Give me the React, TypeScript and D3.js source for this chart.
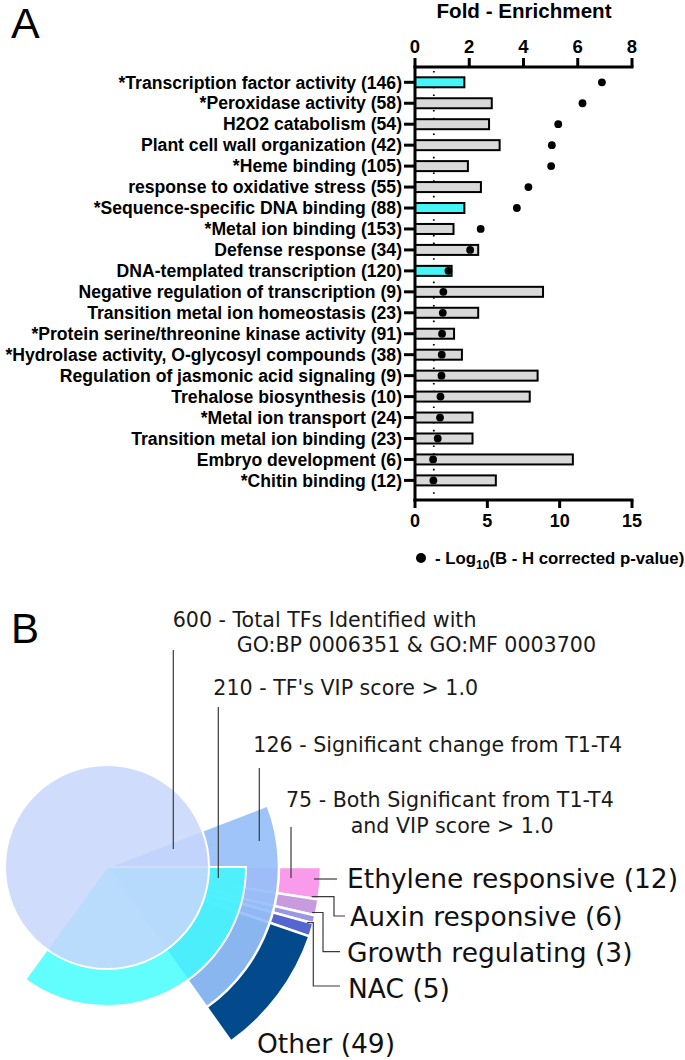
import React from 'react';
import * as d3 from 'd3';

// ---------- Panel A data ----------
const categories = [
  '*Transcription factor activity (146)',
  '*Peroxidase activity (58)',
  'H2O2 catabolism (54)',
  'Plant cell wall organization (42)',
  '*Heme binding (105)',
  'response to oxidative stress (55)',
  '*Sequence-specific DNA binding (88)',
  '*Metal ion binding (153)',
  'Defense response (34)',
  'DNA-templated transcription (120)',
  'Negative regulation of transcription (9)',
  'Transition metal ion homeostasis (23)',
  '*Protein serine/threonine kinase activity (91)',
  '*Hydrolase activity, O-glycosyl compounds (38)',
  'Regulation of jasmonic acid signaling (9)',
  'Trehalose biosynthesis (10)',
  '*Metal ion transport (24)',
  'Transition metal ion binding (23)',
  'Embryo development (6)',
  '*Chitin binding (12)',
];
const foldEnrichment = [1.82, 2.83, 2.73, 3.12, 1.95, 2.43, 1.82, 1.42, 2.33, 1.35, 4.72, 2.33, 1.44, 1.73, 4.52, 4.23, 2.12, 2.12, 5.82, 2.98];
const negLog10P = [12.92, 11.58, 9.9, 9.46, 9.41, 7.84, 7.04, 4.54, 3.81, 2.31, 1.96, 1.92, 1.87, 1.85, 1.83, 1.76, 1.73, 1.57, 1.25, 1.27];
const isTFTerm = [true, false, false, false, false, false, true, false, false, true, false, false, false, false, false, false, false, false, false, false];
const foldTicks = [0, 2, 4, 6, 8];
const pTicks = [0, 5, 10, 15];
const significanceThreshold = 1.3; // -log10(0.05)

// ---------- Panel B data ----------
const levelCounts = [600, 210, 126, 75];
const levelLabels = [
  ['600 - Total TFs Identified with', 'GO:BP 0006351 & GO:MF 0003700'],
  ["210 - TF's VIP score > 1.0"],
  ['126 - Significant change from T1-T4'],
  ['75 - Both Significant from T1-T4', 'and VIP score > 1.0'],
];
const groupNames = ['Ethylene responsive', 'Auxin responsive', 'Growth regulating', 'NAC', 'Other'];
const groupCounts = [12, 6, 3, 5, 49];
const groupColors = ['#f99bea', '#c89ade', '#9b97e1', '#5666cf', '#034a8c'];

export default function App() {
  // ---- Panel A scales ----
  const x0 = 415, x1 = 632;
  const xFold = d3.scaleLinear().domain([0, 8]).range([x0, x1]);
  const xP = d3.scaleLinear().domain([0, 15]).range([x0, x1]);
  const yTop = 67, yBot = 500;
  const y = d3.scalePoint<string>().domain(categories).range([82.3, 480.4]);
  const barH = 10;
  const boldFont = '"Liberation Sans", Arial, sans-serif';

  // ---- Panel B geometry ----
  const cx = 107, cy = 867;
  const rCircle = 102, rL1 = 139, rL2 = 172, rL3 = 214;
  const degPerUnit = d3.scaleLinear().domain([0, levelCounts[0]]).range([0, 360]);
  const toRad = (deg: number) => Math.PI / 2 + (deg * Math.PI) / 180;
  const l1Start = 0, l1End = l1Start + degPerUnit(levelCounts[1]);
  const l2Start = -21, l2End = l2Start + degPerUnit(levelCounts[2]);
  const arc = d3.arc<any>();
  const pie = d3.pie<number>().sort(null).value((d) => d).startAngle(toRad(0)).endAngle(toRad(l2End));
  const groupArcs = pie(groupCounts);

  const lineGen = d3.line();
  const leaders: [number, number][][] = [
    [[173.3, 650], [173.3, 849]],
    [[218.3, 707], [218.3, 878]],
    [[259.3, 768], [259.3, 841]],
    [[291, 827], [291, 878]],
  ];
  const groupLeaders: [number, number][][] = [
    [[314, 879], [337, 879]],
    [[311.7, 896.7], [334, 896.7], [334, 916], [345, 916]],
    [[312, 912.5], [323, 912.5], [323, 951.7], [340, 951.7]],
    [[307, 922.7], [313.3, 922.7], [313.3, 986], [340, 986]],
  ];
  const groupLabelPos = [
    [347, 888], [350, 925.7], [347, 961.7], [348, 998.3], [257, 1053],
  ];
  const levelLabelPos = [
    [[172.7, 626.7], [236.7, 651.7]],
    [[213.3, 695]],
    [[253.3, 751.7]],
    [[286, 806.7], [350.7, 833.3]],
  ];
  const sansFont = '"DejaVu Sans", Verdana, sans-serif';

  return (
    <svg width={685} height={1060} style={{ position: 'absolute', left: 0, top: 0, background: '#fff' }}>
      <rect x={0} y={0} width={685} height={1060} fill="#fff" />
      {/* Panel letters */}
      <text x={11} y={38} fontFamily={boldFont} fontSize={43} fill="#000">A</text>
      <text x={11} y={643} fontFamily={boldFont} fontSize={42} fill="#000">B</text>

      {/* ===== Panel A ===== */}
      <text x={524} y={17.5} textAnchor="middle" fontFamily={boldFont} fontWeight="bold" fontSize={20.6}>Fold - Enrichment</text>

      {/* dotted significance line */}
      <line x1={xP(significanceThreshold)} x2={xP(significanceThreshold)} y1={yTop + 4} y2={yBot}
        stroke="#000" strokeWidth={1.8} strokeDasharray="1.6 6.2" />

      {/* bars */}
      {categories.map((c, i) => (
        <rect key={c} x={x0} y={(y(c) as number) - barH / 2} width={xFold(foldEnrichment[i]) - x0} height={barH}
          fill={isTFTerm[i] ? '#45f5f7' : '#d9d9d9'} stroke="#000" strokeWidth={2} />
      ))}

      {/* top axis */}
      <line x1={x0 - 1.5} x2={x1 + 1.5} y1={yTop} y2={yTop} stroke="#000" strokeWidth={3} />
      {foldTicks.map((t) => (
        <g key={t}>
          <line x1={xFold(t)} x2={xFold(t)} y1={yTop} y2={yTop - 9} stroke="#000" strokeWidth={3} />
          <text x={xFold(t)} y={52.7} textAnchor="middle" fontFamily={boldFont} fontWeight="bold" fontSize={18.5}>{t}</text>
        </g>
      ))}

      {/* left axis */}
      <line x1={x0} x2={x0} y1={yTop - 1.5} y2={yBot + 1.5} stroke="#000" strokeWidth={3} />
      {categories.map((c) => (
        <g key={c}>
          <line x1={x0 - 11} x2={x0} y1={y(c)} y2={y(c)} stroke="#000" strokeWidth={3} />
          <text x={402} y={(y(c) as number) + 6.2} textAnchor="end" fontFamily={boldFont} fontWeight="bold" fontSize={17.6}>{c}</text>
        </g>
      ))}

      {/* bottom axis */}
      <line x1={x0 - 1.5} x2={x1 + 1.5} y1={yBot} y2={yBot} stroke="#000" strokeWidth={3} />
      {pTicks.map((t) => (
        <g key={t}>
          <line x1={xP(t)} x2={xP(t)} y1={yBot} y2={yBot + 8} stroke="#000" strokeWidth={3} />
          <text x={xP(t)} y={527} textAnchor="middle" fontFamily={boldFont} fontWeight="bold" fontSize={18}>{t}</text>
        </g>
      ))}

      {/* p-value dots */}
      {categories.map((c, i) => (
        <circle key={c} cx={xP(negLog10P[i])} cy={y(c)} r={3.9} fill="#000" />
      ))}

      {/* bottom axis title */}
      <circle cx={421} cy={558} r={5} fill="#000" />
      <text x={435} y={564} fontFamily={boldFont} fontWeight="bold" fontSize={16.8}>
        {'- Log'}<tspan fontSize={12} dy={4.5}>10</tspan><tspan dy={-4.5}>(B - H corrected p-value)</tspan>
      </text>

      {/* ===== Panel B ===== */}
      <g transform={`translate(${cx},${cy})`}>
        {groupArcs.map((a, i) => (
          <path key={groupNames[i]} d={arc({ innerRadius: 0, outerRadius: rL3, startAngle: a.startAngle, endAngle: a.endAngle }) as string}
            fill={groupColors[i]} stroke="#fff" strokeWidth={2.5} strokeLinejoin="round" />
        ))}
        <path d={arc({ innerRadius: 0, outerRadius: rL2, startAngle: toRad(l2Start), endAngle: toRad(l2End) }) as string}
          fill="rgb(150,191,249)" fillOpacity={0.92} stroke="#fff" strokeWidth={2.5} />
        <path d={arc({ innerRadius: 0, outerRadius: rL1, startAngle: toRad(l1Start), endAngle: toRad(l1End) }) as string}
          fill="rgb(59,253,253)" fillOpacity={0.8} stroke="#fff" strokeWidth={2} />
        <circle r={rCircle} fill="rgb(200,214,251)" fillOpacity={0.854} stroke="#fff" strokeWidth={2} />
      </g>

      {[...leaders, ...groupLeaders].map((pts, i) => (
        <path key={i} d={lineGen(pts) as string} fill="none" stroke="#3a3a3a" strokeWidth={1.2} />
      ))}

      {levelLabels.map((lines, i) =>
        lines.map((t, j) => (
          <text key={`${i}-${j}`} x={levelLabelPos[i][j][0]} y={levelLabelPos[i][j][1]} fontFamily={sansFont} fontSize={20.6} fill="#1a1a1a">{t}</text>
        ))
      )}
      {groupNames.map((n, i) => (
        <text key={n} x={groupLabelPos[i][0]} y={groupLabelPos[i][1]} fontFamily={sansFont} fontSize={26.5} fill="#111">{`${n} (${groupCounts[i]})`}</text>
      ))}
    </svg>
  );
}
